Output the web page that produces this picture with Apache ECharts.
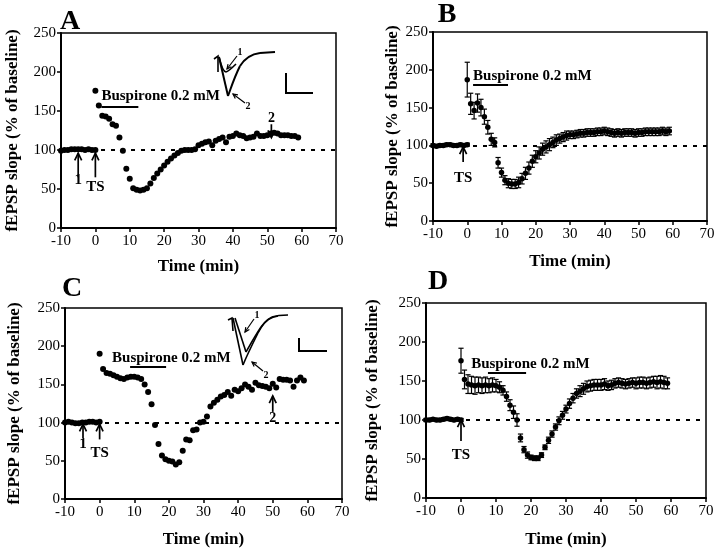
<!DOCTYPE html>
<html><head><meta charset="utf-8">
<script src="https://cdn.jsdelivr.net/npm/echarts@6/dist/echarts.min.js"></script>
<style>html,body{margin:0;padding:0;background:#fff}#c{width:720px;height:556px}</style>
</head><body><div id="c"></div>
<script>
// ---------- DATA ----------
const xTicks = [-10, 0, 10, 20, 30, 40, 50, 60, 70];
const yTicks = [0, 50, 100, 150, 200, 250];
const baseTime = [-10, -9, -8, -7, -6, -5, -4, -3, -2, -1, 0];
const postTime = [0,1,2,3,4,5,6,7,8,9,10,11,12,13,14,15,16,17,18,19,20,21,22,23,24,25,26,27,28,29,30,31,32,33,34,35,36,37,38,39,40,41,42,43,44,45,46,47,48,49,50,51,52,53,54,55,56,57,58,59];

// Panel A (single experiment)
const baseA = [99,100,100,101,101,101,101,100,101,100,100];
const postA = [176,157,144,143,140,133,131,116,99,76,63,51,49,48,49,51,57,64,70,75,80,85,89,93,96,99,100,100,100,101,106,108,110,111,106,112,114,116,110,117,118,121,119,118,115,116,117,121,118,118,119,121,122,121,119,119,119,118,118,116];

// Panel B (mean +/- SEM)
const baseB = [100,99,100,100,101,101,100,100,101,100,101];
const baseErrB = [2,2,2,2,2,2,2,2,2,2,2];
const postB = [187,155,146,156,150,138,124,108,104,77,64,54,50,49,49,51,56,63,70,79,85,90,95,98,101,104,107,109,111,113,114,114,115,116,116,117,117,117,118,118,119,118,117,116,117,116,117,117,117,116,117,117,118,118,118,118,118,119,118,119];
const postErrB = [23,14,11,12,11,10,9,8,6,7,6,6,6,6,6,7,7,8,8,8,8,8,8,8,8,7,7,6,6,6,5,5,5,5,5,5,5,5,5,5,5,5,5,5,5,5,5,5,5,5,5,5,5,5,5,5,5,5,5,5];

// Panel C (single experiment)
const baseC = [100,101,100,99,99,100,100,101,101,100,101];
const postC = [190,170,165,164,162,160,158,157,159,160,160,159,157,150,140,124,97,72,57,52,50,49,45,48,63,78,77,90,91,100,101,108,121,126,130,134,136,140,135,143,141,145,150,147,143,152,149,148,147,145,151,146,157,156,156,155,147,155,159,155];

// Panel D (mean +/- SEM)
const baseD = [100,100,101,100,100,101,102,101,100,101,100];
const baseErrD = [2,2,2,2,2,2,2,2,2,2,2];
const postD = [176,152,146,145,144,145,144,145,144,145,144,142,138,130,119,110,100,77,62,55,52,51,51,55,65,74,82,91,99,106,114,121,128,134,137,140,143,144,145,145,145,146,144,145,147,148,147,146,147,148,147,148,148,147,148,149,148,149,148,147];
const postErrD = [16,12,12,11,11,10,10,10,9,9,8,7,6,6,7,8,8,5,4,4,3,3,3,3,3,4,4,4,5,5,5,6,6,6,7,7,7,7,7,7,7,7,6,6,6,6,6,6,6,6,7,7,7,7,7,7,8,8,8,7];

const panelLetters = ['A', 'B', 'C', 'D'];
const drugLabel = 'Buspirone 0.2 mM';
const xName = 'Time (min)';
const yName = 'fEPSP slope (% of baseline)';

// ---------- LAYOUT ----------
const FONT = '"Liberation Serif", "Times New Roman", serif';
const grids = [
  {left: 61, top: 33, width: 275, height: 195},
  {left: 433, top: 32, width: 274, height: 189},
  {left: 65, top: 308, width: 277, height: 191},
  {left: 426, top: 303, width: 280, height: 195}
];
const yNameGap = [40, 32, 42, 45];
const xNameGap = [30, 32, 32, 33];

const chart = echarts.init(document.getElementById('c'), null, {renderer: 'canvas'});

function xAxis(i) {
  return {
    type: 'value', gridIndex: i, min: xTicks[0], max: xTicks[xTicks.length - 1], interval: xTicks[1] - xTicks[0],
    axisLine: {show: true, onZero: false, lineStyle: {color: '#000', width: 2}},
    axisTick: {show: true, length: 4, lineStyle: {color: '#000', width: 1.5}},
    axisLabel: {color: '#000', fontFamily: FONT, fontSize: 15, margin: 6},
    splitLine: {show: false},
    name: xName, nameLocation: 'middle', nameGap: xNameGap[i],
    nameTextStyle: {fontFamily: FONT, fontWeight: 'bold', fontSize: 17, color: '#000'}
  };
}
function yAxis(i) {
  return {
    type: 'value', gridIndex: i, min: yTicks[0], max: yTicks[yTicks.length - 1], interval: yTicks[1] - yTicks[0],
    axisLine: {show: true, onZero: false, lineStyle: {color: '#000', width: 2}},
    axisTick: {show: true, length: 4, lineStyle: {color: '#000', width: 1.5}},
    axisLabel: {color: '#000', fontFamily: FONT, fontSize: 15, margin: 5},
    splitLine: {show: false},
    name: yName, nameLocation: 'middle', nameGap: yNameGap[i],
    nameTextStyle: {fontFamily: FONT, fontWeight: 'bold', fontSize: 17, color: '#000'}
  };
}

const zip = (t, v) => t.map((x, i) => [x, v[i]]);
const zipErr = (t, v, e) => t.map((x, i) => [x, v[i] - e[i], v[i] + e[i]]);

function dots(g, t, v, size) {
  return {type: 'scatter', xAxisIndex: g, yAxisIndex: g, data: zip(t, v), symbol: 'circle', symbolSize: size,
    itemStyle: {color: '#000', opacity: 1}, silent: true, z: 4};
}
function errBars(g, t, v, e) {
  return {
    type: 'custom', xAxisIndex: g, yAxisIndex: g, data: zipErr(t, v, e), silent: true, z: 3,
    renderItem(params, api) {
      const lo = api.coord([api.value(0), api.value(1)]);
      const hi = api.coord([api.value(0), api.value(2)]);
      const w = 2.6;
      const st = {stroke: '#000', lineWidth: 1.2};
      return {type: 'group', children: [
        {type: 'line', shape: {x1: lo[0], y1: lo[1], x2: hi[0], y2: hi[1]}, style: st},
        {type: 'line', shape: {x1: lo[0] - w, y1: lo[1], x2: lo[0] + w, y2: lo[1]}, style: st},
        {type: 'line', shape: {x1: hi[0] - w, y1: hi[1], x2: hi[0] + w, y2: hi[1]}, style: st}
      ]};
    }
  };
}
// dotted baseline + drug bar as markLines
function refLines(g, barFrom, barTo, barY) {
  return {
    type: 'line', xAxisIndex: g, yAxisIndex: g, data: [], silent: true, z: 2,
    markLine: {
      symbol: 'none', silent: true, animation: false, label: {show: false},
      data: [
        [{coord: [xTicks[0], 100], lineStyle: {type: [4, 6], color: '#000', width: 2}}, {coord: [xTicks[xTicks.length - 1], 100]}],
        [{coord: [barFrom, barY], lineStyle: {type: 'solid', color: '#000', width: 2}}, {coord: [barTo, barY]}]
      ]
    }
  };
}

const series = [
  refLines(0, 1.75, 12.5, 156),
  dots(0, baseTime, baseA, 6), dots(0, postTime, postA, 6),
  refLines(1, 1.7, 11.9, 180),
  errBars(1, baseTime, baseB, baseErrB), errBars(1, postTime, postB, postErrB),
  dots(1, baseTime, baseB, 5.5), dots(1, postTime, postB, 5.5),
  refLines(2, 8.8, 19.2, 173),
  dots(2, baseTime, baseC, 6), dots(2, postTime, postC, 6),
  refLines(3, 7.7, 18.6, 160),
  errBars(3, baseTime, baseD, baseErrD), errBars(3, postTime, postD, postErrD),
  dots(3, baseTime, baseD, 5.5), dots(3, postTime, postD, 5.5)
];

chart.setOption({
  animation: false,
  backgroundColor: '#fff',
  grid: grids.map(g => Object.assign({show: true, borderColor: '#000', borderWidth: 1.5, backgroundColor: 'transparent'}, g)),
  xAxis: [0, 1, 2, 3].map(xAxis),
  yAxis: [0, 1, 2, 3].map(yAxis),
  series: series
});

// ---------- ANNOTATIONS ----------
const P = (g, x, y) => chart.convertToPixel({gridIndex: g}, [x, y]);
const G = [];
function text(x, y, s, size, align) {
  G.push({type: 'text', x: x, y: y, z: 10, style: {text: s, font: 'bold ' + size + 'px ' + FONT, fill: '#000',
    textAlign: align || 'center', textVerticalAlign: 'middle'}});
}
function seg(x1, y1, x2, y2, lw) {
  G.push({type: 'line', z: 10, shape: {x1: x1, y1: y1, x2: x2, y2: y2}, style: {stroke: '#000', lineWidth: lw || 1.5}});
}
function curve(x1, y1, c1x, c1y, c2x, c2y, x2, y2, lw) {
  G.push({type: 'bezierCurve', z: 10, shape: {x1: x1, y1: y1, cpx1: c1x, cpy1: c1y, cpx2: c2x, cpy2: c2y, x2: x2, y2: y2},
    style: {stroke: '#000', lineWidth: lw || 1.5, fill: null}});
}
function poly(pts, lw) {
  G.push({type: 'polyline', z: 10, shape: {points: pts}, style: {stroke: '#000', lineWidth: lw || 1.5, fill: null}});
}
function arrowPx(x1, y1, x2, y2, hl, lw) {
  const ang = Math.atan2(y2 - y1, x2 - x1);
  const a1 = ang + Math.PI - 0.45, a2 = ang + Math.PI + 0.45;
  seg(x1, y1, x2, y2, lw);
  poly([[x2 + hl * Math.cos(a1), y2 + hl * Math.sin(a1)], [x2, y2], [x2 + hl * Math.cos(a2), y2 + hl * Math.sin(a2)]], lw);
}
function arrowData(g, t, yTail, yHead) {
  const a = P(g, t, yTail), b = P(g, t, yHead);
  arrowPx(a[0], a[1], b[0], b[1], 8, 1.7);
}
function labelData(g, t, y, s, size, align) {
  const p = P(g, t, y);
  text(p[0], p[1], s, size, align);
}

// panel letters
text(70, 22, panelLetters[0], 28);
text(447, 15, panelLetters[1], 28);
text(72, 289, panelLetters[2], 28);
text(438, 282, panelLetters[3], 28);

// Panel A
labelData(0, 1.75, 169, drugLabel, 15, 'left');
arrowData(0, -5, 65, 96); labelData(0, -5, 61, '1', 15);
arrowData(0, 0, 65, 96); labelData(0, 0, 52, 'TS', 15);
arrowData(0, 51.2, 133, 116); labelData(0, 51.2, 141, '2', 14);
// inset traces A
poly([[214, 59], [218, 56], [218, 72]], 1.6);
seg(219, 57, 228, 96, 2);
curve(228, 96, 231, 88, 234, 78, 240, 66, 2);
curve(240, 66, 245, 58, 252, 54, 260, 53, 2);
seg(260, 53, 275, 52, 2);
curve(219, 57, 221, 65, 223, 72, 226, 72, 1.6);
curve(226, 72, 229, 71, 232, 68, 236, 64, 1.6);
text(240, 52, '1', 10);
arrowPx(237, 56, 227, 69, 5, 1.2);
text(248, 106, '2', 10);
arrowPx(245, 103, 233, 94, 5, 1.2);
poly([[286, 73], [286, 93], [313, 93]], 2);

// Panel B
labelData(1, 1.7, 192, drugLabel, 15, 'left');
arrowData(1, -1.2, 78, 98); labelData(1, -1.2, 57, 'TS', 15);

// Panel C
labelData(2, 3.6, 185, drugLabel, 15, 'left');
arrowData(2, -4.8, 80, 98); labelData(2, -4.8, 72, '1', 15);
arrowData(2, 0, 78, 98); labelData(2, 0, 60, 'TS', 15);
arrowData(2, 50, 114, 135); labelData(2, 50, 106, '2', 14);
// inset traces C
poly([[228, 320], [232, 318], [233, 331]], 1.6);
seg(233, 318, 243, 365, 1.6);
curve(243, 365, 247, 355, 252, 345, 258, 333, 1.6);
curve(258, 333, 262, 325, 266, 320, 272, 317, 1.6);
curve(272, 317, 278, 315, 282, 315, 288, 315, 1.6);
seg(235, 318, 246, 352, 1.6);
curve(246, 352, 250, 345, 255, 336, 261, 327, 1.6);
curve(261, 327, 265, 321, 270, 317, 278, 316, 1.6);
text(257, 315, '1', 10);
arrowPx(254, 319, 245, 332, 5, 1.2);
text(266, 375, '2', 10);
arrowPx(263, 371, 252, 362, 5, 1.2);
poly([[299, 338], [299, 351], [327, 351]], 2);

// Panel D
labelData(3, 2.9, 171, drugLabel, 15, 'left');
arrowData(3, 0, 73, 100); labelData(3, 0, 55, 'TS', 15);

chart.setOption({graphic: {elements: G}});
</script>
</body></html>
